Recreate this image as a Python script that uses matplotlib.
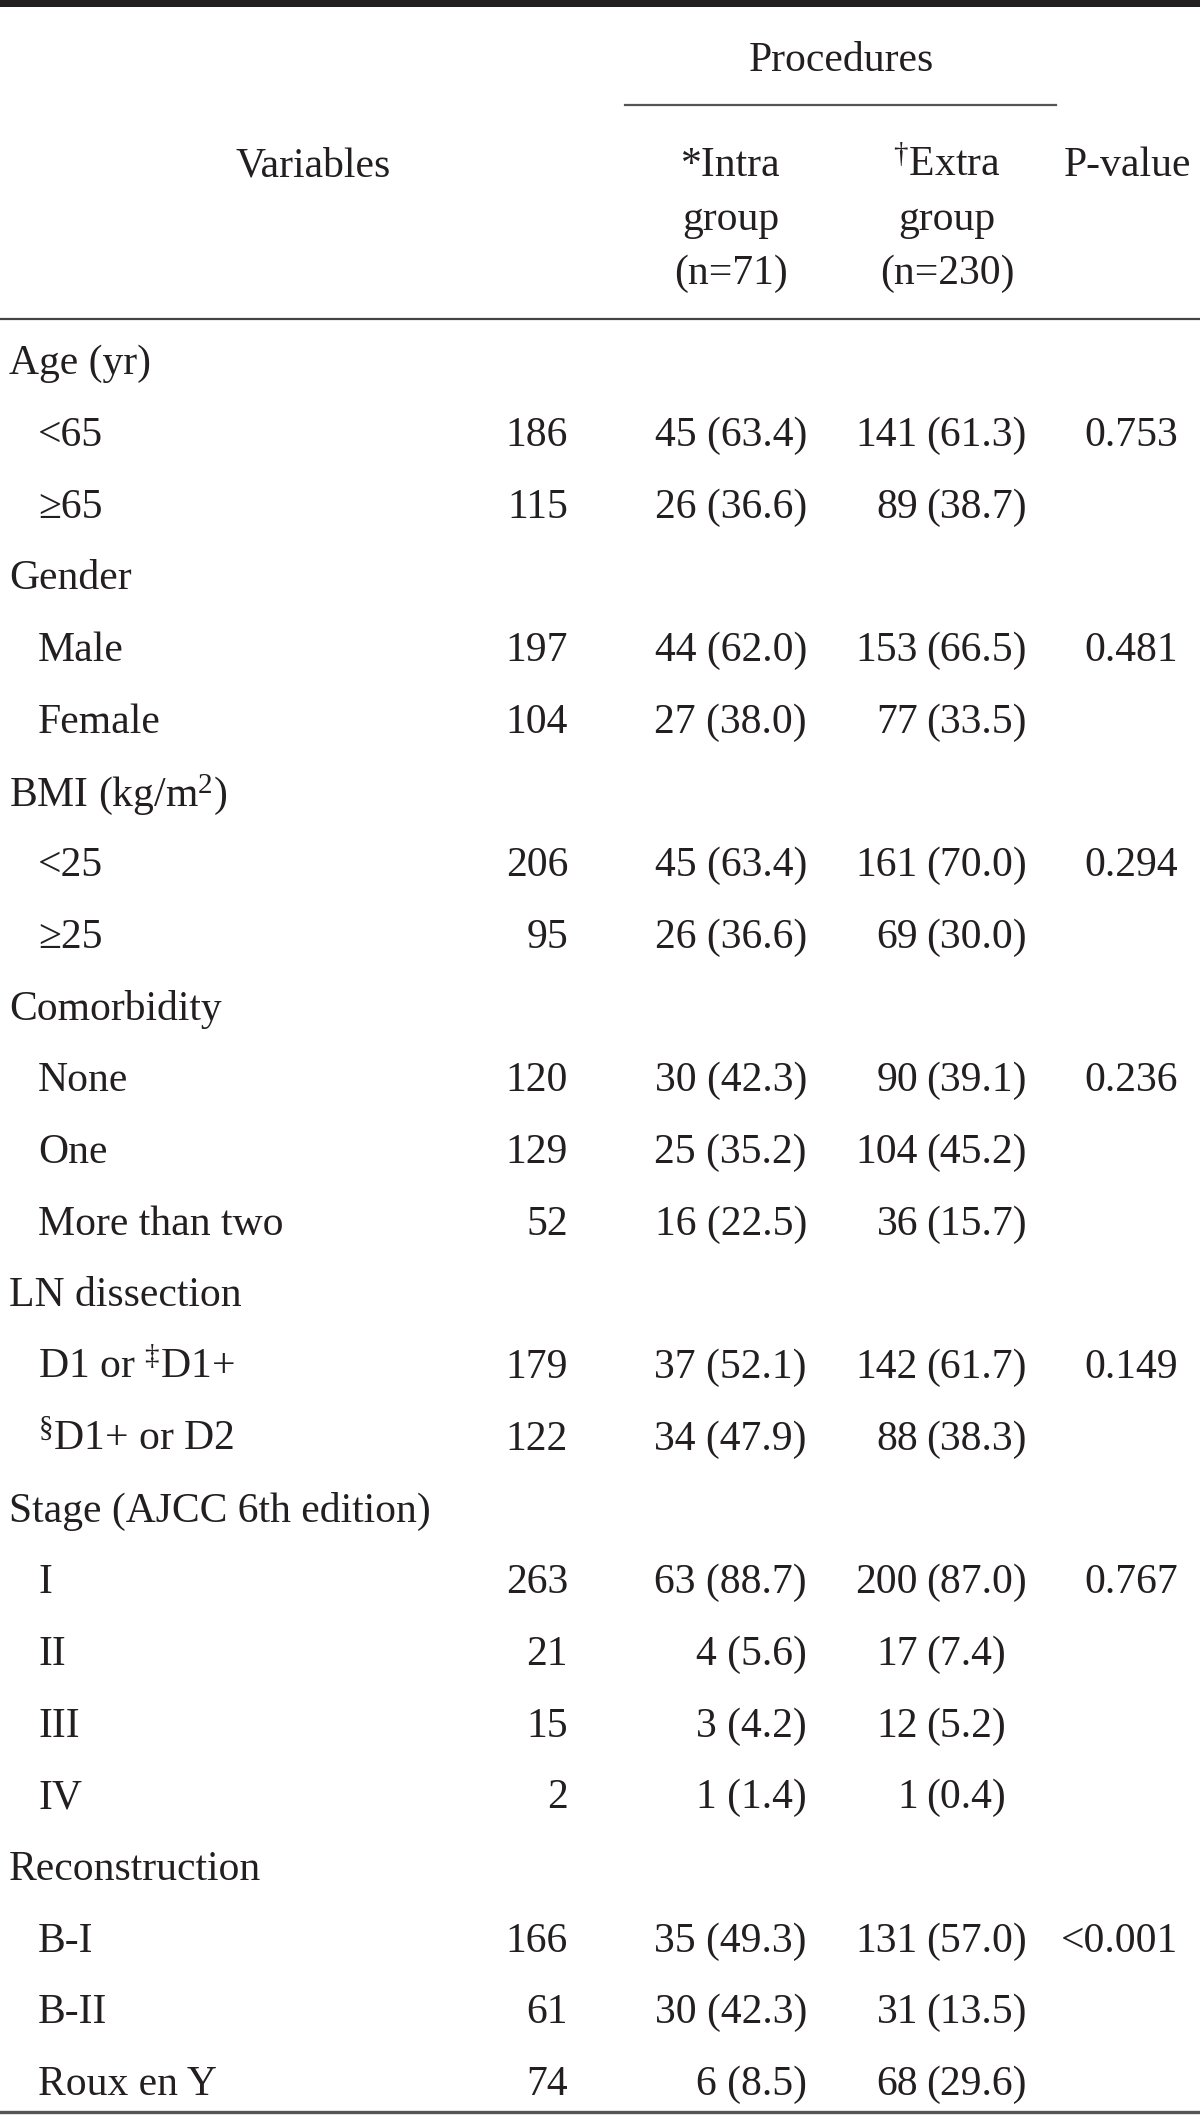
import matplotlib.pyplot as plt

plt.rcParams['font.family'] = ['Liberation Serif', 'DejaVu Serif']
plt.rcParams['mathtext.fontset'] = 'custom'
plt.rcParams['mathtext.rm'] = 'Liberation Serif'
plt.rcParams['mathtext.it'] = 'Liberation Serif'

# table data
group_names = ["Age (yr)", "Gender", "BMI (kg/m$^{2}$)", "Comorbidity", "LN dissection",
               "Stage (AJCC 6th edition)", "Reconstruction"]
sub_labels = [["<65", "\u226565"],
              ["Male", "Female"],
              ["<25", "\u226525"],
              ["None", "One", "More than two"],
              ["D1 or $^{\u2021}$D1+", "$^{\u00a7}$D1+ or D2"],
              ["I", "II", "III", "IV"],
              ["B-I", "B-II", "Roux en Y"]]
totals = [[186, 115], [197, 104], [206, 95], [120, 129, 52], [179, 122],
          [263, 21, 15, 2], [166, 61, 74]]
intra_counts = [[45, 26], [44, 27], [45, 26], [30, 25, 16], [37, 34],
                [63, 4, 3, 1], [35, 30, 6]]
intra_pcts = [[63.4, 36.6], [62.0, 38.0], [63.4, 36.6], [42.3, 35.2, 22.5], [52.1, 47.9],
              [88.7, 5.6, 4.2, 1.4], [49.3, 42.3, 8.5]]
extra_counts = [[141, 89], [153, 77], [161, 69], [90, 104, 36], [142, 88],
                [200, 17, 12, 1], [131, 31, 68]]
extra_pcts = [[61.3, 38.7], [66.5, 33.5], [70.0, 30.0], [39.1, 45.2, 15.7], [61.7, 38.3],
              [87.0, 7.4, 5.2, 0.4], [57.0, 13.5, 29.6]]
p_values = ["0.753", "0.481", "0.294", "0.236", "0.149", "0.767", "<0.001"]

W, H = 1200, 2117
fig = plt.figure(figsize=(W / 100, H / 100), dpi=100)
ax = fig.add_axes([0, 0, 1, 1])
ax.set_xlim(0, W)
ax.set_ylim(H, 0)
ax.axis('off')

ink = '#231f20'
fs = 30
off = 4  # nudge text down a bit


def put(x, y, s, ha):
    ax.text(x, y + off, s, ha=ha, va='center', fontsize=fs, color=ink)


# rules
ax.fill_between([0, W], 0, 7, color=ink, lw=0)
ax.plot([625, 1056], [105, 105], color='#555555', lw=1.6)
ax.plot([0, W], [319, 319], color='#444444', lw=1.6)
ax.plot([0, W], [2112, 2112], color='#555555', lw=2.4)

# header
put(841, 57, "Procedures", 'center')
put(313, 162, "Variables", 'center')
put(731, 162, "*Intra", 'center')
put(731, 216, "group", 'center')
put(731, 270, "(n=71)", 'center')
put(947, 162, "$^{\u2020}$Extra", 'center')
put(947, 216, "group", 'center')
put(947, 270, "(n=230)", 'center')
put(1128, 162, "P-value", 'center')

y0, dy = 360, 71.7
row = 0
for g, name in enumerate(group_names):
    put(9, y0 + row * dy, name, 'left')
    row += 1
    for k, lab in enumerate(sub_labels[g]):
        y = y0 + row * dy
        put(38, y, lab, 'left')
        put(568, y, str(totals[g][k]), 'right')
        put(807, y, f"{intra_counts[g][k]} ({intra_pcts[g][k]:.1f})", 'right')
        put(918, y, str(extra_counts[g][k]), 'right')
        put(926, y, f"({extra_pcts[g][k]:.1f})", 'left')
        if k == 0:
            put(1178, y, p_values[g], 'right')
        row += 1

fig.savefig('out.png', dpi=100, facecolor='white')
